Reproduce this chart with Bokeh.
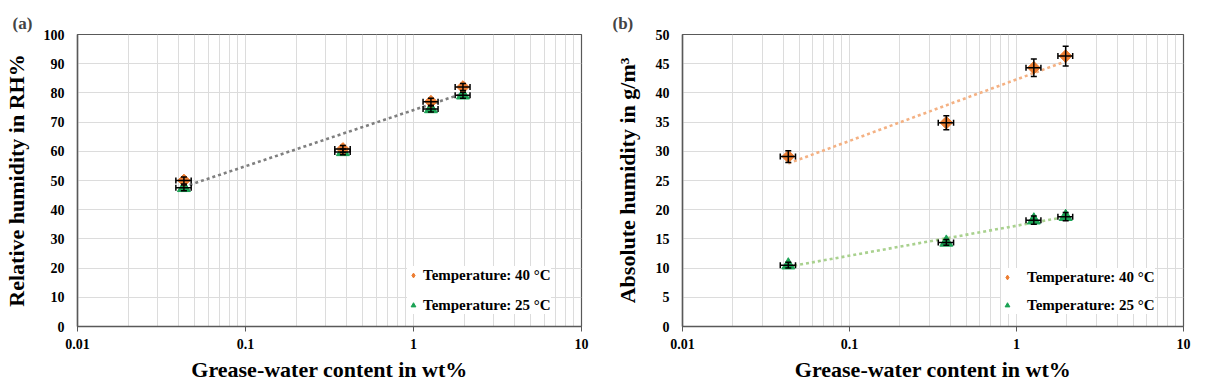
import numpy as np
from bokeh.plotting import figure
from bokeh.models import (ColumnDataSource, Whisker, FixedTicker, CustomJSTickFormatter,
                          Legend, LegendItem, TeeHead, Range1d)
from bokeh.layouts import row
from bokeh.embed import file_html
from bokeh.resources import INLINE

# ---------------- data ----------------
content_wt = [0.043, 0.38, 1.27, 1.97]          # grease-water content, wt%
content_err = [0.0045, 0.04, 0.13, 0.2]

rh_40 = [50.0, 60.8, 77.0, 82.0]                 # relative humidity, 40 C
rh_40_err = [1.2, 1.2, 1.2, 1.2]
rh_25 = [47.5, 59.8, 74.5, 79.2]                 # relative humidity, 25 C
rh_25_err = [1.0, 1.0, 1.0, 1.0]

ah_40 = [29.1, 34.9, 44.3, 46.3]                 # absolute humidity, 40 C
ah_40_err = [1.0, 1.2, 1.5, 1.7]
ah_25 = [10.5, 14.4, 18.2, 18.8]                 # absolute humidity, 25 C
ah_25_err = [0.5, 0.5, 0.7, 0.7]

x_ticks = [0.01, 0.1, 1, 10]
x_minor = [m * d for d in (0.01, 0.1, 1) for m in range(2, 10)]
rh_ticks = list(range(0, 101, 10))
ah_ticks = list(range(0, 51, 5))

label_40 = "Temperature: 40 \u00b0C"
label_25 = "Temperature: 25 \u00b0C"

ORANGE = "#ED7D31"
GREEN = "#1AA254"
FONT = "Liberation Serif"
AXC = "#595959"
GRID = "#dcdcdc"


def log_fit(x, y):
    lx = np.log10(np.asarray(x, float))
    b, a = np.polyfit(lx, np.asarray(y, float), 1)
    xs = np.array([min(x), max(x)])
    return xs, a + b * np.log10(xs)


def make_panel(tag, ylabel, ymax, yticks, y40, e40, y25, e25, trends, width,
               bl, br, bt, bb, ystand, leg_loc, leg_standoff, leg_spacing):
    p = figure(width=width, height=392, x_axis_type="log",
               x_range=Range1d(0.01, 10), y_range=Range1d(0, ymax),
               output_backend="svg", toolbar_location=None,
               min_border_left=bl, min_border_right=br,
               min_border_top=bt, min_border_bottom=bb)
    p.outline_line_color = AXC
    p.outline_line_width = 1.2
    p.background_fill_color = "white"
    p.border_fill_color = "white"

    p.title.text = tag
    p.title.text_font = FONT
    p.title.text_font_size = "17px"
    p.title.text_font_style = "bold"
    p.title.align = "left"
    p.title.offset = -(bl - 12)
    p.title.standoff = 4

    xt = FixedTicker(ticks=x_ticks, minor_ticks=x_minor)
    p.xaxis.ticker = xt
    p.xgrid.ticker = xt
    p.xaxis.formatter = CustomJSTickFormatter(code="return tick.toString();")
    p.yaxis.ticker = FixedTicker(ticks=yticks)

    p.xgrid.grid_line_color = GRID
    p.xgrid.minor_grid_line_color = GRID
    p.ygrid.grid_line_color = GRID

    for ax in (p.xaxis[0], p.yaxis[0]):
        ax.axis_line_color = AXC
        ax.axis_line_width = 1.5
        ax.major_label_text_font = FONT
        ax.major_label_text_font_style = "bold"
        ax.major_label_text_font_size = "14px"
        ax.major_label_text_color = "black"
        ax.axis_label_text_font = FONT
        ax.axis_label_text_font_style = "bold"
        ax.axis_label_text_font_size = "22px"
        ax.axis_label_text_color = "black"
        ax.minor_tick_line_color = None

    p.xaxis.major_tick_line_color = AXC
    p.xaxis.major_tick_out = 5
    p.xaxis.major_tick_in = 0
    p.xaxis.major_label_standoff = 7
    p.xaxis.axis_label = "Grease-water content in wt%"
    p.xaxis.axis_label_standoff = 5

    p.yaxis.major_tick_line_color = None
    p.yaxis.major_tick_out = 0
    p.yaxis.major_tick_in = 0
    p.yaxis.major_label_standoff = 13
    p.yaxis.axis_label = ylabel
    p.yaxis.axis_label_standoff = ystand

    # trend lines (least-squares logarithmic fits)
    for (tx, ty, col) in trends:
        p.line(tx, ty, line_color=col, line_width=2.6, line_dash="3 3")

    def src(y, e):
        return ColumnDataSource(dict(
            x=content_wt, y=y,
            yl=[a - b for a, b in zip(y, e)],
            yu=[a + b for a, b in zip(y, e)],
            xl=[a - b for a, b in zip(content_wt, content_err)],
            xu=[a + b for a, b in zip(content_wt, content_err)]))

    s25 = src(y25, e25)
    s40 = src(y40, e40)

    # smaller symbols (used by the legend), hidden under the main markers
    l25 = p.scatter("x", "y", source=s25, marker="triangle", size=10,
                    fill_color=GREEN, line_color=GREEN)
    p.scatter("x", "y", source=s25, marker="triangle", size=13,
              fill_color=GREEN, line_color=GREEN)
    l40 = p.scatter("x", "y", source=s40, marker="diamond", size=11,
                    fill_color=ORANGE, line_color=ORANGE)
    p.scatter("x", "y", source=s40, marker="square", angle=np.pi / 4,
              size=9, fill_color=ORANGE, line_color=ORANGE)

    for s in (s25, s40):
        for dim, base, lo, hi in (("height", "x", "yl", "yu"), ("width", "y", "xl", "xu")):
            w = Whisker(source=s, base=base, lower=lo, upper=hi, dimension=dim,
                        line_color="black", line_width=1.5, level="overlay",
                        upper_head=TeeHead(size=6, line_color="black", line_width=1.5),
                        lower_head=TeeHead(size=6, line_color="black", line_width=1.5))
            p.add_layout(w)

    leg = Legend(items=[LegendItem(label=label_40, renderers=[l40]),
                        LegendItem(label=label_25, renderers=[l25])],
                 location=leg_loc, orientation="vertical")
    leg.label_text_font = FONT
    leg.label_text_font_style = "bold"
    leg.label_text_font_size = "15px"
    leg.label_text_color = "black"
    leg.border_line_color = None
    leg.background_fill_color = "white"
    leg.background_fill_alpha = 1.0
    leg.glyph_width = 12
    leg.glyph_height = 18
    leg.label_height = 18
    leg.label_standoff = leg_standoff
    leg.spacing = leg_spacing
    leg.padding = 8
    leg.margin = 0
    p.add_layout(leg)
    return p


fa_x, fa_y = log_fit(content_wt, rh_40)
pa = make_panel("(a)", "Relative humidity in RH%", 100, rh_ticks,
                rh_40, rh_40_err, rh_25, rh_25_err,
                [(fa_x, fa_y, "#7F7F7F")],
                600, 77, 19, 33, 65, 12, (330, 12), 4, 12)

fo_x, fo_y = log_fit(content_wt, ah_40)
fg_x, fg_y = log_fit(content_wt, ah_25)
pb = make_panel("(b)", "Absolute humidity in g/m\u00b3", 50, ah_ticks,
                ah_40, ah_40_err, ah_25, ah_25_err,
                [(fo_x, fo_y, "#F4B183"), (fg_x, fg_y, "#A9D18E")],
                607, 82, 24, 34, 66, 13, (319, 12), 14, 10)

layout = row(pa, pb)
open("out.html", "w").write(file_html(layout, INLINE))
